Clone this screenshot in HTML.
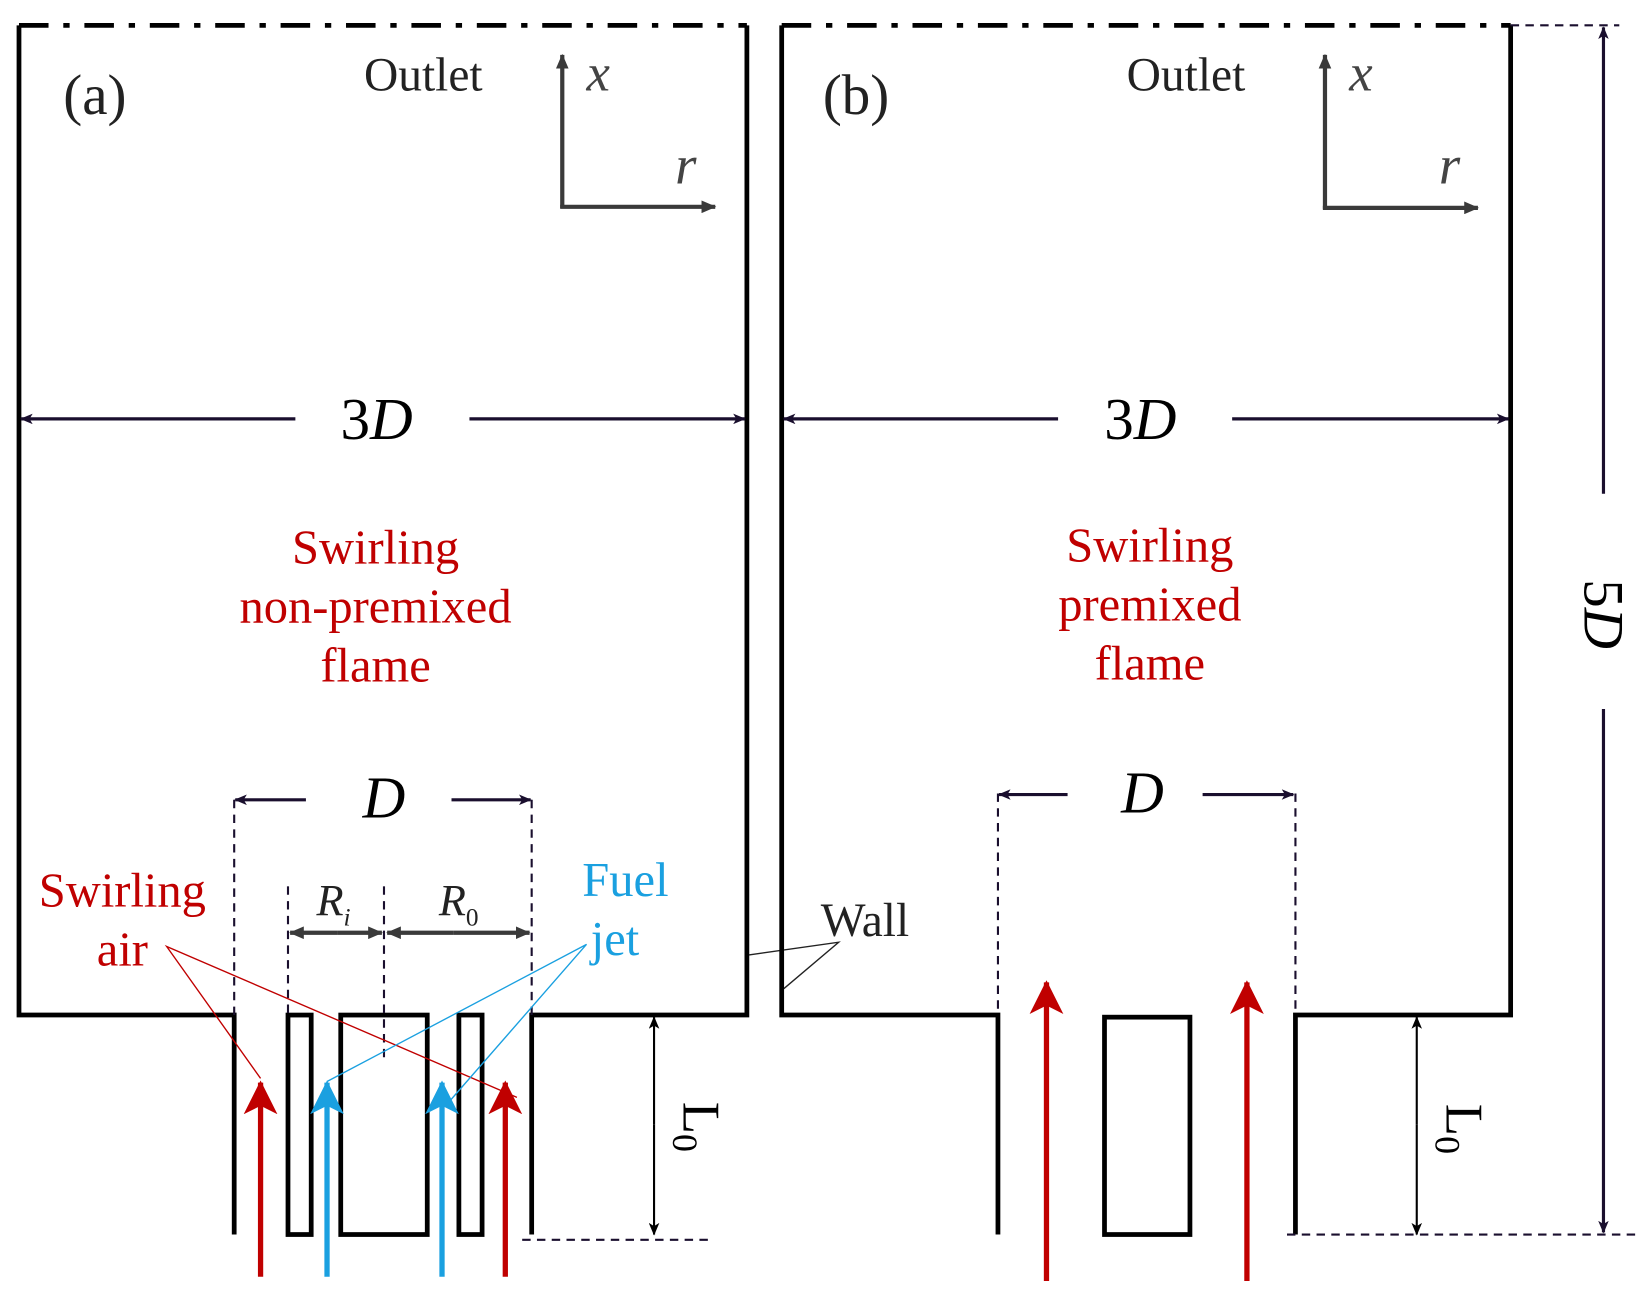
<!DOCTYPE html>
<html><head><meta charset="utf-8"><style>
html,body{margin:0;padding:0;background:#fff;}
svg{display:block;}
text{font-family:"Liberation Serif","Times New Roman",serif;}
</style></head><body>
<svg width="1652" height="1301" viewBox="0 0 1566 1233" preserveAspectRatio="none" xmlns="http://www.w3.org/2000/svg">
<defs>
<marker id="ad" markerWidth="12" markerHeight="10" refX="11" refY="5" orient="auto" markerUnits="userSpaceOnUse"><path d="M0,0 L12,5 L0,10 L3,5 Z" fill="#1a0f2e"/></marker>
<marker id="ag" markerWidth="14" markerHeight="12" refX="13" refY="6" orient="auto" markerUnits="userSpaceOnUse"><path d="M0,0 L14,6 L0,12 Z" fill="#3a3a3a"/></marker>
<marker id="ab" markerWidth="12" markerHeight="10" refX="11" refY="5" orient="auto" markerUnits="userSpaceOnUse"><path d="M0,0 L12,5 L0,10 L3,5 Z" fill="#000"/></marker>
<marker id="ar" markerWidth="32" markerHeight="32" refX="30" refY="16" orient="auto" markerUnits="userSpaceOnUse"><path d="M0,0 L32,16 L0,32 L8,16 Z" fill="#c00000"/></marker>
<marker id="abl" markerWidth="32" markerHeight="32" refX="30" refY="16" orient="auto" markerUnits="userSpaceOnUse"><path d="M0,0 L32,16 L0,32 L8,16 Z" fill="#1aa0e0"/></marker>
</defs>

<!-- Panel a -->
<g fill="none" stroke="#000" stroke-width="4.5">
<path d="M18,24 L708,24" stroke-dasharray="28,14,6,14"/>
<path d="M18,24 L18,962 L222,962 L222,1170"/>
<path d="M708,24 L708,962 L504,962 L504,1170"/>
<rect x="273" y="962" width="22" height="208"/>
<rect x="323" y="962" width="82" height="208"/>
<rect x="435" y="962" width="22" height="208"/>
</g>
<g stroke="#1a0f2e" stroke-width="2" stroke-dasharray="8,6" fill="none">
<line x1="222" y1="758" x2="222" y2="962"/>
<line x1="504" y1="758" x2="504" y2="962"/>
<line x1="273" y1="840" x2="273" y2="962"/>
<line x1="364" y1="840" x2="364" y2="1005"/>
<line x1="495" y1="1175" x2="675" y2="1175"/>
</g>
<g stroke="#1a0f2e" stroke-width="3" fill="none">
<line x1="280" y1="397" x2="20" y2="397" marker-end="url(#ad)"/>
<line x1="445" y1="397" x2="706" y2="397" marker-end="url(#ad)"/>
<line x1="290" y1="758" x2="223" y2="758" marker-end="url(#ad)"/>
<line x1="428" y1="758" x2="503" y2="758" marker-end="url(#ad)"/>
</g>
<g stroke="#3a3a3a" stroke-width="4" fill="none">
<line x1="320" y1="884" x2="275" y2="884" marker-end="url(#ag)"/>
<line x1="320" y1="884" x2="362" y2="884" marker-end="url(#ag)"/>
<line x1="430" y1="884" x2="367" y2="884" marker-end="url(#ag)"/>
<line x1="430" y1="884" x2="502" y2="884" marker-end="url(#ag)"/>
<line x1="533" y1="197" x2="533" y2="52" marker-end="url(#ag)"/>
<line x1="531" y1="196" x2="678" y2="196" marker-end="url(#ag)"/>
</g>
<g stroke="#000" stroke-width="2" fill="none">
<line x1="620" y1="1066" x2="620" y2="964" marker-end="url(#ab)"/>
<line x1="620" y1="1066" x2="620" y2="1170" marker-end="url(#ab)"/>
</g>
<g stroke-width="5" fill="none">
<line x1="247" y1="1210" x2="247" y2="1026" stroke="#c00000" marker-end="url(#ar)"/>
<line x1="479" y1="1210" x2="479" y2="1026" stroke="#c00000" marker-end="url(#ar)"/>
<line x1="310" y1="1210" x2="310" y2="1026" stroke="#1aa0e0" marker-end="url(#abl)"/>
<line x1="419" y1="1210" x2="419" y2="1026" stroke="#1aa0e0" marker-end="url(#abl)"/>
</g>
<g stroke-width="1.3" fill="none">
<path d="M247,1022 L158,897 L490,1040" stroke="#c00000"/>
<path d="M310,1025 L556,895 L425,1045" stroke="#1aa0e0"/>
<path d="M710,905 L795,893 L743,937" stroke="#222"/>
</g>

<text x="60" y="108" font-size="54" fill="#222">(a)</text>
<text x="345" y="86" font-size="45" fill="#222">Outlet</text>
<text x="556" y="86" font-size="50" font-style="italic" fill="#444">x</text>
<text x="640" y="174" font-size="52" font-style="italic" fill="#444">r</text>
<text x="357" y="416" font-size="56" text-anchor="middle" fill="#000">3<tspan font-style="italic">D</tspan></text>
<text x="364" y="775" font-size="56" font-style="italic" text-anchor="middle" fill="#000">D</text>
<text x="300" y="867" font-size="42" font-style="italic" fill="#222">R<tspan font-size="24" dy="10">i</tspan></text>
<text x="416" y="867" font-size="42" font-style="italic" fill="#222">R<tspan font-size="24" dy="10" font-style="normal">0</tspan></text>
<g fill="#c00000" font-size="46" text-anchor="middle">
<text x="356" y="534">Swirling</text>
<text x="356" y="590">non-premixed</text>
<text x="356" y="646">flame</text>
<text x="116" y="859">Swirling</text>
<text x="116" y="915">air</text>
</g>
<g fill="#1aa0e0" font-size="46">
<text x="552" y="849">Fuel</text>
<text x="560" y="905">jet</text>
</g>
<text x="778" y="887" font-size="45" fill="#222">Wall</text>
<text transform="translate(648,1068) rotate(90)" font-size="50" text-anchor="middle" fill="#000">L<tspan font-size="34" dy="10">0</tspan></text>

<!-- Panel b -->
<g fill="none" stroke="#000" stroke-width="4.5">
<path d="M741,24 L1432,24" stroke-dasharray="28,14,6,14"/>
<path d="M741,24 L741,962 L946,962 L946,1170"/>
<path d="M1432,24 L1432,962 L1228,962 L1228,1170"/>
<rect x="1047" y="964" width="81" height="206"/>
</g>
<g stroke="#1a0f2e" stroke-width="2" stroke-dasharray="8,6" fill="none">
<line x1="946" y1="752" x2="946" y2="962"/>
<line x1="1228" y1="752" x2="1228" y2="962"/>
<line x1="1220" y1="1170" x2="1550" y2="1170"/>
<line x1="1432" y1="24" x2="1535" y2="24"/>
</g>
<g stroke="#1a0f2e" stroke-width="3" fill="none">
<line x1="1003" y1="397" x2="743" y2="397" marker-end="url(#ad)"/>
<line x1="1168" y1="397" x2="1430" y2="397" marker-end="url(#ad)"/>
<line x1="1012" y1="753" x2="947" y2="753" marker-end="url(#ad)"/>
<line x1="1140" y1="753" x2="1226" y2="753" marker-end="url(#ad)"/>
<line x1="1520" y1="468" x2="1520" y2="26" marker-end="url(#ad)"/>
<line x1="1520" y1="672" x2="1520" y2="1168" marker-end="url(#ad)"/>
</g>
<g stroke="#3a3a3a" stroke-width="4" fill="none">
<line x1="1256" y1="198" x2="1256" y2="52" marker-end="url(#ag)"/>
<line x1="1254" y1="197" x2="1401" y2="197" marker-end="url(#ag)"/>
</g>
<g stroke="#000" stroke-width="2" fill="none">
<line x1="1343" y1="1066" x2="1343" y2="964" marker-end="url(#ab)"/>
<line x1="1343" y1="1066" x2="1343" y2="1170" marker-end="url(#ab)"/>
</g>
<g stroke-width="5" fill="none">
<line x1="992" y1="1214" x2="992" y2="931" stroke="#c00000" marker-end="url(#ar)"/>
<line x1="1182" y1="1214" x2="1182" y2="931" stroke="#c00000" marker-end="url(#ar)"/>
</g>
<text x="780" y="108" font-size="54" fill="#222">(b)</text>
<text x="1068" y="86" font-size="45" fill="#222">Outlet</text>
<text x="1279" y="86" font-size="50" font-style="italic" fill="#444">x</text>
<text x="1364" y="174" font-size="52" font-style="italic" fill="#444">r</text>
<text x="1081" y="416" font-size="56" text-anchor="middle" fill="#000">3<tspan font-style="italic">D</tspan></text>
<text x="1083" y="770" font-size="56" font-style="italic" text-anchor="middle" fill="#000">D</text>
<g fill="#c00000" font-size="46" text-anchor="middle">
<text x="1090" y="532">Swirling</text>
<text x="1090" y="588">premixed</text>
<text x="1090" y="644">flame</text>
</g>
<text transform="translate(1371,1070) rotate(90)" font-size="50" text-anchor="middle" fill="#000">L<tspan font-size="34" dy="10">0</tspan></text>
<text transform="translate(1502,582) rotate(90)" font-size="54" text-anchor="middle" fill="#000">5<tspan font-style="italic">D</tspan></text>
</svg>
</body></html>
